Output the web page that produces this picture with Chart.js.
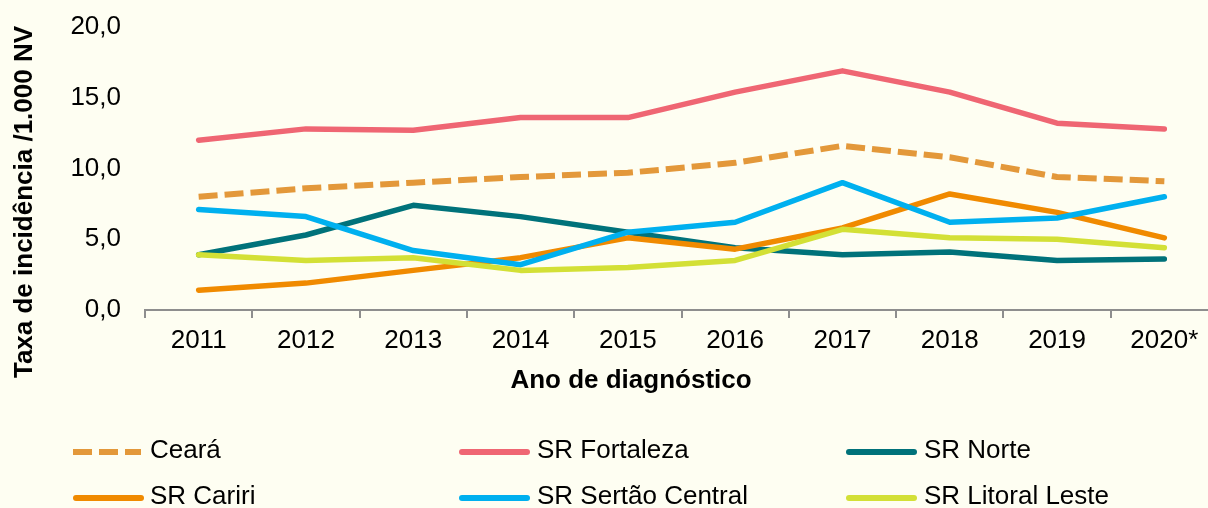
<!DOCTYPE html>
<html>
<head>
<meta charset="utf-8">
<title>Taxa de incidência</title>
<script src="https://cdn.jsdelivr.net/npm/chart.js@4.4.0/dist/chart.umd.min.js"></script>
<style>
    html, body { margin: 0; padding: 0; background: #fefef2; overflow: hidden; }
    #wrap { position: relative; width: 1218px; height: 508px; }
    #myChart { position: absolute; left: 0; top: 0; }
    .label { position: absolute; font: 26px "Liberation Sans", Arial, sans-serif; color: #000; white-space: nowrap; line-height: 26px; }
    .swatch { position: absolute; height: 6px; border-radius: 3px; }
</style>
</head>
<body>
<div id="wrap">
    <canvas id="myChart" width="1218" height="508"></canvas>
    <div id="legend"></div>
</div>
<script>
'use strict';

// data
var years = ['2011', '2012', '2013', '2014', '2015', '2016', '2017', '2018', '2019', '2020*'];
var yTicks = [0, 5, 10, 15, 20];

var ceara = [8.0, 8.6, 9.0, 9.4, 9.7, 10.4, 11.6, 10.8, 9.4, 9.1];
var fortaleza = [12.0, 12.8, 12.7, 13.6, 13.6, 15.4, 16.9, 15.4, 13.2, 12.8];
var norte = [3.9, 5.3, 7.4, 6.6, 5.5, 4.4, 3.9, 4.1, 3.5, 3.6];
var cariri = [1.4, 1.9, 2.8, 3.7, 5.1, 4.3, 5.8, 8.2, 6.9, 5.1];
var sertao = [7.1, 6.6, 4.2, 3.2, 5.5, 6.2, 9.0, 6.2, 6.5, 8.0];
var litoral = [3.9, 3.5, 3.7, 2.8, 3.0, 3.5, 5.7, 5.1, 5.0, 4.4];

var seriesNames = ['Ceará', 'SR Fortaleza', 'SR Norte', 'SR Cariri', 'SR Sertão Central', 'SR Litoral Leste'];
var seriesData = [ceara, fortaleza, norte, cariri, sertao, litoral];
var seriesColors = ['#e3983a', '#ef6673', '#00727a', '#f08a00', '#00b0ef', '#d3e036'];

var xTitle = 'Ano de diagnóstico';
var yTitle = 'Taxa de incidência /1.000 NV';

var FONT = '"Liberation Sans", Arial, sans-serif';
var AXIS_GREY = '#8e8e8e';

Chart.defaults.font.family = FONT;
Chart.defaults.font.size = 26;
Chart.defaults.color = '#000';

function buildDatasets() {
    var sets = [];
    for (var i = 0; i < seriesNames.length; i++) {
        var dashed = i === 0;
        sets.push({
            label: seriesNames[i],
            data: seriesData[i],
            borderColor: seriesColors[i],
            backgroundColor: seriesColors[i],
            borderWidth: dashed ? 6 : 5.5,
            borderDash: dashed ? [19, 7] : [],
            borderCapStyle: dashed ? 'butt' : 'round',
            borderJoinStyle: 'round',
            pointRadius: 0,
            tension: 0,
            fill: false,
            order: seriesNames.length - i
        });
    }
    return sets;
}

// axis titles sit off-centre in the reference, so draw them here
var titlesPlugin = {
    id: 'axisTitles',
    afterDraw: function(chart) {
        var ctx = chart.ctx;
        ctx.save();
        ctx.fillStyle = '#000';
        ctx.font = 'bold 26px ' + FONT;
        ctx.textAlign = 'center';
        ctx.textBaseline = 'middle';
        ctx.fillText(xTitle, 631, 381);
        ctx.translate(25, 202);
        ctx.rotate(-Math.PI / 2);
        ctx.fillText(yTitle, 0, 0);
        ctx.restore();
    }
};

var ctx = document.getElementById('myChart').getContext('2d');

var chart = new Chart(ctx, {
    type: 'line',
    data: {
        labels: years,
        datasets: buildDatasets()
    },
    options: {
        responsive: false,
        animation: false,
        devicePixelRatio: 1,
        layout: { padding: { top: 27, left: 0, right: 0, bottom: 0 } },
        plugins: {
            legend: { display: false },
            tooltip: { enabled: false }
        },
        scales: {
            x: {
                type: 'category',
                offset: true,
                grid: {
                    offset: true,
                    drawOnChartArea: false,
                    drawTicks: true,
                    tickLength: 8,
                    color: AXIS_GREY,
                    lineWidth: 2
                },
                border: { display: true, color: AXIS_GREY, width: 2 },
                ticks: { padding: 7, maxRotation: 0, autoSkip: false, color: '#000' },
                afterFit: function(scale) { scale.height = 508 - 310; }
            },
            y: {
                min: yTicks[0],
                max: yTicks[yTicks.length - 1],
                grid: { display: false, drawTicks: false },
                border: { display: false },
                afterBuildTicks: function(scale) {
                    scale.ticks = yTicks.map(function(v) { return { value: v }; });
                },
                ticks: {
                    padding: 24,
                    color: '#000',
                    callback: function(value) {
                        return Number(value).toFixed(1).replace('.', ',');
                    }
                },
                afterFit: function(scale) {
                    scale.width = 145;
                    // keep the plot top where the reference has it
                    scale.paddingTop = 0;
                    scale.paddingBottom = 0;
                }
            }
        }
    },
    plugins: [titlesPlugin]
});

// legend as html, two rows of three
var legendCols = [{ line: 73, text: 150 }, { line: 459, text: 537 }, { line: 846, text: 924 }];
var legendRows = [452, 498];

function renderLegend() {
    var box = document.getElementById('legend');
    box.innerHTML = '';
    for (var i = 0; i < seriesNames.length; i++) {
        var col = legendCols[i % 3];
        var rowY = legendRows[Math.floor(i / 3)];
        var color = seriesColors[i];

        var sw = document.createElement('div');
        sw.className = 'swatch';
        sw.style.left = col.line + 'px';
        sw.style.top = (rowY - 3) + 'px';
        sw.style.width = (i === 0 ? 68 : 71) + 'px';
        if (i === 0) {
            sw.style.borderRadius = '0';
            sw.style.background = 'repeating-linear-gradient(to right, ' + color + ' 0 19px, transparent 19px 26px)';
        } else {
            sw.style.background = color;
        }
        box.appendChild(sw);

        var lbl = document.createElement('div');
        lbl.className = 'label';
        lbl.style.left = col.text + 'px';
        lbl.style.top = (rowY - 16) + 'px';
        lbl.textContent = seriesNames[i];
        box.appendChild(lbl);
    }
}

renderLegend();
</script>
</body>
</html>
